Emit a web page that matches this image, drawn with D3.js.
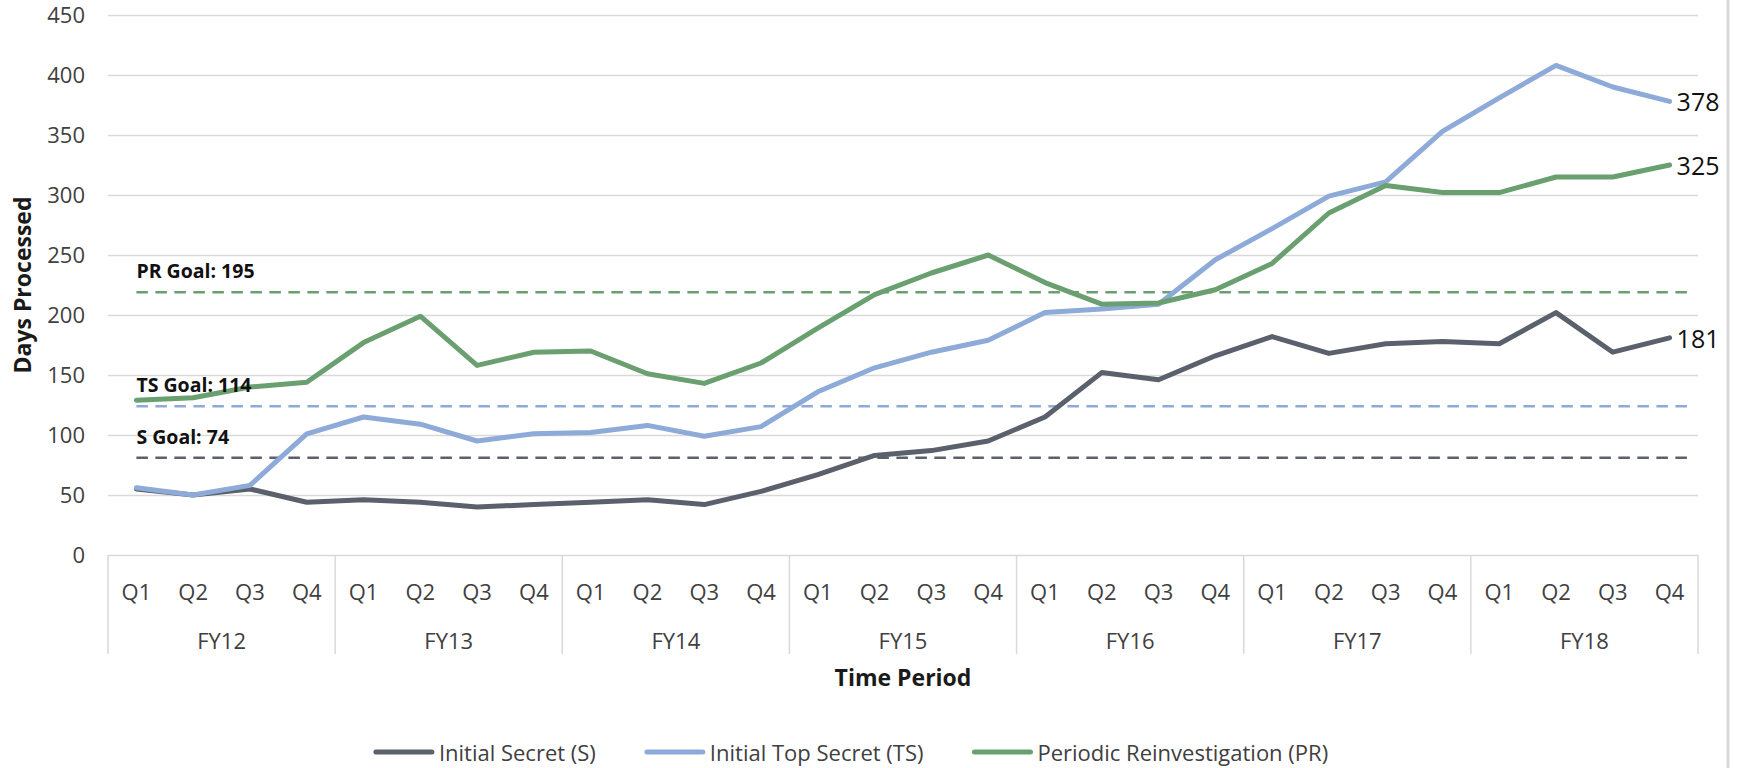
<!DOCTYPE html>
<html>
<head>
<meta charset="utf-8">
<script src="https://cdn.jsdelivr.net/npm/d3@7"></script>
<style>
  body { margin: 0; background: #fff; }
  svg { display: block; font-family: "Open Sans", Lato, sans-serif; }
</style>
</head>
<body>
<div id="chart"></div>
<script>
// values (days processed, per quarter)
const years = ["FY12", "FY13", "FY14", "FY15", "FY16", "FY17", "FY18"];
const quarters = ["Q1", "Q2", "Q3", "Q4"];

const initialSecret = [55, 50, 55, 44, 46, 44, 40, 42, 44, 46, 42, 53, 67, 83, 87, 95,
  115, 152, 146, 166, 182, 168, 176, 178, 176, 202, 169, 181];
const initialTopSecret = [56, 50, 58, 101, 115, 109, 95, 101, 102, 108, 99, 107, 136, 156, 169, 179,
  202, 205, 209, 246, 272, 299, 311, 353, 381, 408, 390, 378];
const periodicReinv = [129, 131, 140, 144, 177, 199, 158, 169, 170, 151, 143, 160, 189, 217, 235, 250,
  227, 209, 210, 221, 243, 285, 308, 302, 302, 315, 315, 325];

const seriesNames = ["Initial Secret (S)", "Initial Top Secret (TS)", "Periodic Reinvestigation (PR)"];
const seriesColors = ["#5a606c", "#8eaad8", "#6a9f70"];
const endLabels = ["181", "378", "325"];

// goal lines, as drawn in the picture, and their captions
const goalLevels = [81, 124, 219];
const goalLabels = ["S Goal: 74", "TS Goal: 114", "PR Goal: 195"];

const width = 1739;
const height = 768;
const m = { left: 108, right: 1698, top: 15, bottom: 555 };

const svg = d3.select("#chart").append("svg")
  .attr("width", width)
  .attr("height", height);

const periods = [];
years.forEach(yr => quarters.forEach(q => periods.push(yr + " " + q)));

const x = d3.scaleBand().domain(periods).range([m.left, m.right]);
const xc = d => x(d) + x.bandwidth() / 2;
const y = d3.scaleLinear().domain([0, 450]).range([m.bottom, m.top]);

// gridlines + y labels
const yAxis = svg.append("g")
  .attr("transform", `translate(${m.left},0)`)
  .call(d3.axisLeft(y).tickValues(d3.range(0, 451, 50)).tickSize(-(m.right - m.left)).tickPadding(23));
yAxis.select(".domain").remove();
yAxis.selectAll(".tick line").attr("stroke", "#d9d9d9").attr("stroke-width", 1.5);
yAxis.selectAll(".tick text")
  .attr("fill", "#404040")
  .style("font-size", "22px")
  .style("font-family", "Open Sans");

// right border of chart area
svg.append("line")
  .attr("x1", 1728).attr("x2", 1728).attr("y1", 0).attr("y2", height)
  .attr("stroke", "#d9d9d9").attr("stroke-width", 3);

// category axis: year separators
const yearScale = d3.scaleBand().domain(years).range([m.left, m.right]);
const sepY2 = 654;
svg.append("g").selectAll("line")
  .data(years.concat(["end"]))
  .join("line")
  .attr("x1", (d, i) => m.left + i * yearScale.bandwidth())
  .attr("x2", (d, i) => m.left + i * yearScale.bandwidth())
  .attr("y1", m.bottom).attr("y2", sepY2)
  .attr("stroke", "#d9d9d9").attr("stroke-width", 1.5);

svg.append("g").selectAll("text")
  .data(periods)
  .join("text")
  .attr("x", d => xc(d))
  .attr("y", 591)
  .attr("text-anchor", "middle")
  .attr("dominant-baseline", "central")
  .attr("fill", "#404040")
  .style("font-size", "22px")
  .text(d => d.split(" ")[1]);

svg.append("g").selectAll("text")
  .data(years)
  .join("text")
  .attr("x", d => yearScale(d) + yearScale.bandwidth() / 2)
  .attr("y", 640)
  .attr("text-anchor", "middle")
  .attr("dominant-baseline", "central")
  .attr("fill", "#404040")
  .style("font-size", "22px")
  .text(d => d);

// axis titles
svg.append("text")
  .attr("x", (m.left + m.right) / 2)
  .attr("y", 677)
  .attr("text-anchor", "middle")
  .attr("dominant-baseline", "central")
  .style("font-size", "23px")
  .style("font-weight", "bold")
  .attr("fill", "#1a1a1a")
  .text("Time Period");

svg.append("text")
  .attr("transform", "translate(22,285) rotate(-90)")
  .attr("text-anchor", "middle")
  .attr("dominant-baseline", "central")
  .style("font-size", "23px")
  .style("font-weight", "bold")
  .attr("fill", "#1a1a1a")
  .text("Days Processed");

// goal lines
const goalX1 = xc(periods[0]);
const goalX2 = 1688;
goalLevels.forEach((g, i) => {
  svg.append("line")
    .attr("x1", goalX1).attr("x2", goalX2)
    .attr("y1", y(g)).attr("y2", y(g))
    .attr("stroke", seriesColors[i])
    .attr("stroke-width", 2.5)
    .attr("stroke-dasharray", "11.5,7.5");
});

// series lines
const allSeries = [initialSecret, initialTopSecret, periodicReinv];
const line = d3.line()
  .x((d, i) => xc(periods[i]))
  .y(d => y(d));

allSeries.forEach((s, i) => {
  svg.append("path")
    .datum(s)
    .attr("d", line)
    .attr("fill", "none")
    .attr("stroke", seriesColors[i])
    .attr("stroke-width", 5)
    .attr("stroke-linejoin", "round")
    .attr("stroke-linecap", "round");
});

// goal captions (drawn after lines so they sit on top)
goalLevels.forEach((g, i) => {
  svg.append("text")
    .attr("x", goalX1)
    .attr("y", y(g) - 14)
    .style("font-size", "19.5px")
    .style("font-weight", "bold")
    .attr("fill", "#111")
    .text(goalLabels[i]);
});

// end value labels
allSeries.forEach((s, i) => {
  svg.append("text")
    .attr("x", xc(periods[periods.length - 1]) + 7)
    .attr("y", y(s[s.length - 1]))
    .attr("dominant-baseline", "central")
    .style("font-size", "25px")
    .attr("fill", "#111")
    .text(endLabels[i]);
});

// legend
const legend = svg.append("g");
const items = legend.selectAll("g")
  .data(seriesNames)
  .join("g");
items.append("line")
  .attr("x1", 0).attr("x2", 56)
  .attr("y1", 0).attr("y2", 0)
  .attr("stroke", (d, i) => seriesColors[i])
  .attr("stroke-width", 5)
  .attr("stroke-linecap", "round");
items.append("text")
  .attr("x", 63)
  .attr("y", 0)
  .attr("dominant-baseline", "central")
  .style("font-size", "22px")
  .attr("fill", "#404040")
  .text(d => d);

let pos = 0;
const offsets = [];
items.each(function() {
  offsets.push(pos);
  pos += this.getBBox().width + 51;
});
const totalW = pos - 51;
const startX = 852 - totalW / 2;
items.attr("transform", (d, i) => `translate(${startX + offsets[i]},752)`);
</script>
</body>
</html>
